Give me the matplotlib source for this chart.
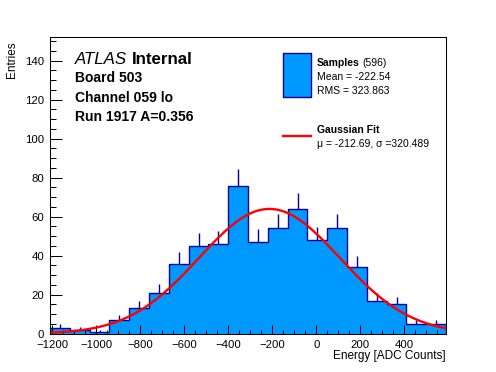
import numpy as np
import matplotlib
matplotlib.use('Agg')
import matplotlib.pyplot as plt

plt.rcParams['font.family'] = ['Liberation Sans', 'DejaVu Sans']

#===============================================================================
# Data
#===============================================================================
bin_edges = np.arange(-1210, 591, 90)
counts = [3, 2, 1, 7, 13, 21, 36, 45, 46, 76,
          47, 54, 64, 48, 54, 34, 17, 15, 5, 5]
fit_amp = 64.0
fit_mu = -212.69
fit_sigma = 320.489
n_samples = 596
mean_txt = "-222.54"
rms_txt = "323.863"

FILL = '#0099ff'
EDGE = '#000099'

W, H = 496, 372
def fx(x): return x / W
def fy(y): return 1 - y / H

fig = plt.figure(figsize=(W / 100, H / 100), dpi=100)
ax = fig.add_axes([fx(50), fy(333.7), fx(446) - fx(50), fy(37.3) - fy(333.7)])

counts = np.array(counts, dtype=float)
centers = 0.5 * (bin_edges[:-1] + bin_edges[1:])

ax.stairs(counts, bin_edges, fill=True, facecolor=FILL, edgecolor='none', zorder=1)
ax.stairs(counts, bin_edges, fill=False, edgecolor=EDGE, linewidth=1.0, baseline=0, zorder=1.2)
ax.vlines(centers, counts, counts + np.sqrt(counts), color=EDGE, linewidth=1.0, zorder=1.3)

# gaussian fit curve from fit parameters
xs = np.linspace(bin_edges[0], bin_edges[-1], 200)
ax.plot(xs, fit_amp * np.exp(-0.5 * ((xs - fit_mu) / fit_sigma) ** 2),
        color='#ff0000', linewidth=1.7, zorder=2)

ax.set_xlim(bin_edges[0], bin_edges[-1])
ax.set_ylim(0, 152)
ax.set_xticks(np.arange(-1200, 401, 200))
ax.set_xticks(np.arange(-1200, 591, 50), minor=True)
ax.set_yticks(np.arange(0, 141, 20))
ax.set_yticks(np.arange(0, 152, 5), minor=True)
ax.tick_params(axis='both', which='both', direction='in', width=0.75, colors='black',
               labelsize=8.2)
ax.tick_params(axis='x', which='major', length=6.4, pad=4.5)
ax.tick_params(axis='x', which='minor', length=3.2)
ax.tick_params(axis='y', which='major', length=8.6, pad=4.3)
ax.tick_params(axis='y', which='minor', length=4.3)
for s in ax.spines.values():
    s.set_linewidth(0.75)

fig.text(fx(446), fy(356), 'Energy [ADC Counts]', ha='right', va='center', fontsize=8.5)
fig.text(fx(12.5), fy(41), 'Entries', ha='center', va='top', rotation=90, fontsize=8.5)

renderer = fig.canvas.get_renderer()
def text_pair(x, y, first, second, size, style1, weight1, weight2, gap):
    t1 = fig.text(fx(x), fy(y), first, fontsize=size, style=style1, fontweight=weight1,
                  ha='left', va='baseline')
    bb = t1.get_window_extent(renderer)
    fig.text((bb.x1 + gap) / W, fy(y), second, fontsize=size, fontweight=weight2,
             ha='left', va='baseline')

text_pair(75, 63.5, 'ATLAS', 'Internal', 12.2, 'italic', 'normal', 'bold', 4.5)
fig.text(fx(75), fy(82), 'Board 503', fontsize=10, fontweight='bold', va='baseline')
fig.text(fx(75), fy(101.5), 'Channel 059 lo', fontsize=10, fontweight='bold', va='baseline')
fig.text(fx(75), fy(121), 'Run 1917 A=0.356', fontsize=10, fontweight='bold', va='baseline')

# legend
box = matplotlib.patches.Rectangle((fx(283), fy(97)), fx(311) - fx(283), fy(53) - fy(97),
                                   transform=fig.transFigure, facecolor=FILL,
                                   edgecolor=EDGE, linewidth=1.0)
fig.patches.append(box)
text_pair(317, 65.5, 'Samples', '(%d)' % n_samples, 7.5, 'normal', 'bold', 'normal', 2.8)
fig.text(fx(317), fy(80), 'Mean = ' + mean_txt, fontsize=7.5, va='baseline')
fig.text(fx(317), fy(94), 'RMS = ' + rms_txt, fontsize=7.5, va='baseline')
fig.add_artist(matplotlib.lines.Line2D([fx(283), fx(311)], [fy(136), fy(136)],
                                       color='#ff0000', linewidth=1.7))
fig.text(fx(317), fy(133), 'Gaussian Fit', fontsize=7.5, fontweight='bold', va='baseline')
fig.text(fx(317), fy(147), '\u03bc = %.2f, \u03c3 =%.3f' % (fit_mu, fit_sigma),
         fontsize=7.5, va='baseline')

fig.savefig('out.png', dpi=100)
